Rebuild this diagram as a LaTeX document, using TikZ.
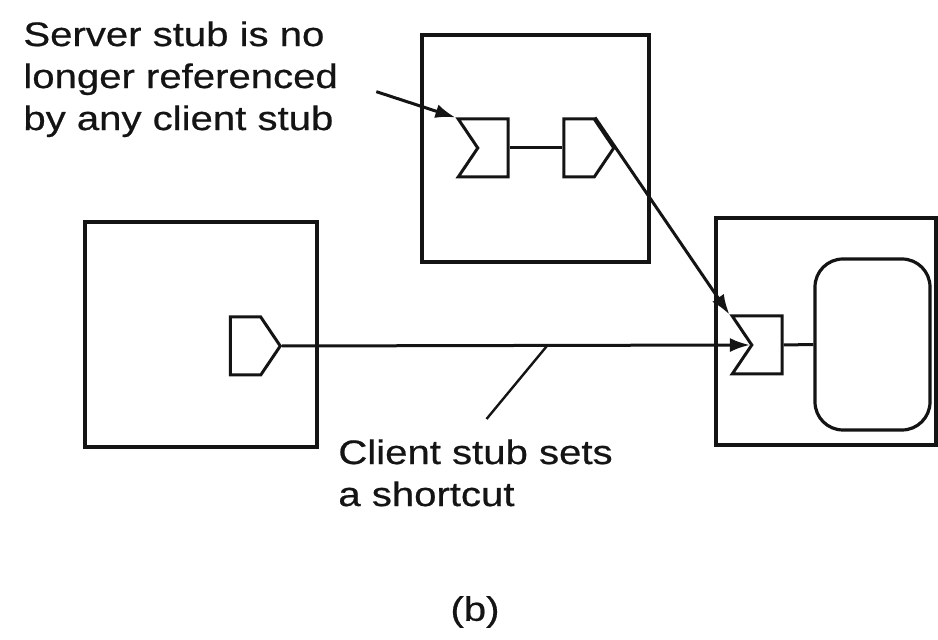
\documentclass[tikz,border=0pt]{standalone}
\usepackage{fontspec}
\setmainfont{Liberation Sans}[FakeStretch=1.18,FakeBold=0.6]
\usepackage{tikz}
\usetikzlibrary{arrows.meta,calc,positioning,shapes.symbols}
\definecolor{StubInk}{HTML}{141414}
\tikzset{
  >=Latex,
  hostbox/.style={draw=StubInk,line width=1.6pt,fill=white,inner sep=0pt},
  objbox/.style={hostbox,rounded corners=14pt},
  proxystub/.style={signal,signal to=east,signal from=nowhere,signal pointer angle=112,
    draw=StubInk,line width=1.5pt,fill=white,inner sep=0pt,minimum width=25pt,minimum height=29pt},
  skelstub/.style={proxystub,signal to=nowhere,signal from=west},
  link/.style={draw=StubInk,line width=1.5pt},
  pointer/.style={-{Latex[length=10pt,width=7pt]},link},
  leader/.style={link,line width=1.2pt},
  note/.style={font=\fontsize{17}{21}\selectfont,text=StubInk,align=left,inner sep=0pt}
}
\begin{document}
\begin{tikzpicture}[x=0.5pt,y=-0.5pt]
  \useasboundingbox (0,0) rectangle (938,640);
  \node[hostbox,minimum width=113.5pt,minimum height=113.5pt] (srvhost) at (535.5,148.5) {};
  \node[hostbox,minimum width=116pt,minimum height=112.5pt] (clienthost) at (201,334.5) {};
  \node[hostbox,minimum width=110pt,minimum height=113.5pt] (objhost) at (826,331.5) {};
  \node[objbox,minimum width=57.5pt,minimum height=85.5pt] (object) at (872.5,344.5) {};

  \node[skelstub] (srvskel) at (493,148) {};
  \node[proxystub] (srvproxy) at (579,148) {};
  \node[proxystub] (cproxy) at (245.5,346) {};
  \node[skelstub] (objskel) at (767,345) {};

  \node[note,anchor=north west] (srvnote) at (23,21) {Server stub is no\\longer referenced\\by any client stub};
  \node[note,anchor=north west] (cnote) at (338,439) {Client stub sets\\a shortcut};
  \node[note] (fig) at (475,612) {(b)};

  \draw[link] (srvskel.east) -- (srvproxy.west);
  \draw[link] (objskel.east) -- (object.west);
  \draw[pointer] (cproxy.east) -- coordinate[pos=0.567] (tap) (objskel.west);
  \draw[pointer] (srvproxy.north east) -- (objskel.north west);
  \draw[pointer,shorten <=20pt] (srvnote.east) -- (srvskel.north west);
  \draw[leader] (tap) -- ($(cnote.north)+(11,-20)$);
\end{tikzpicture}
\end{document}
